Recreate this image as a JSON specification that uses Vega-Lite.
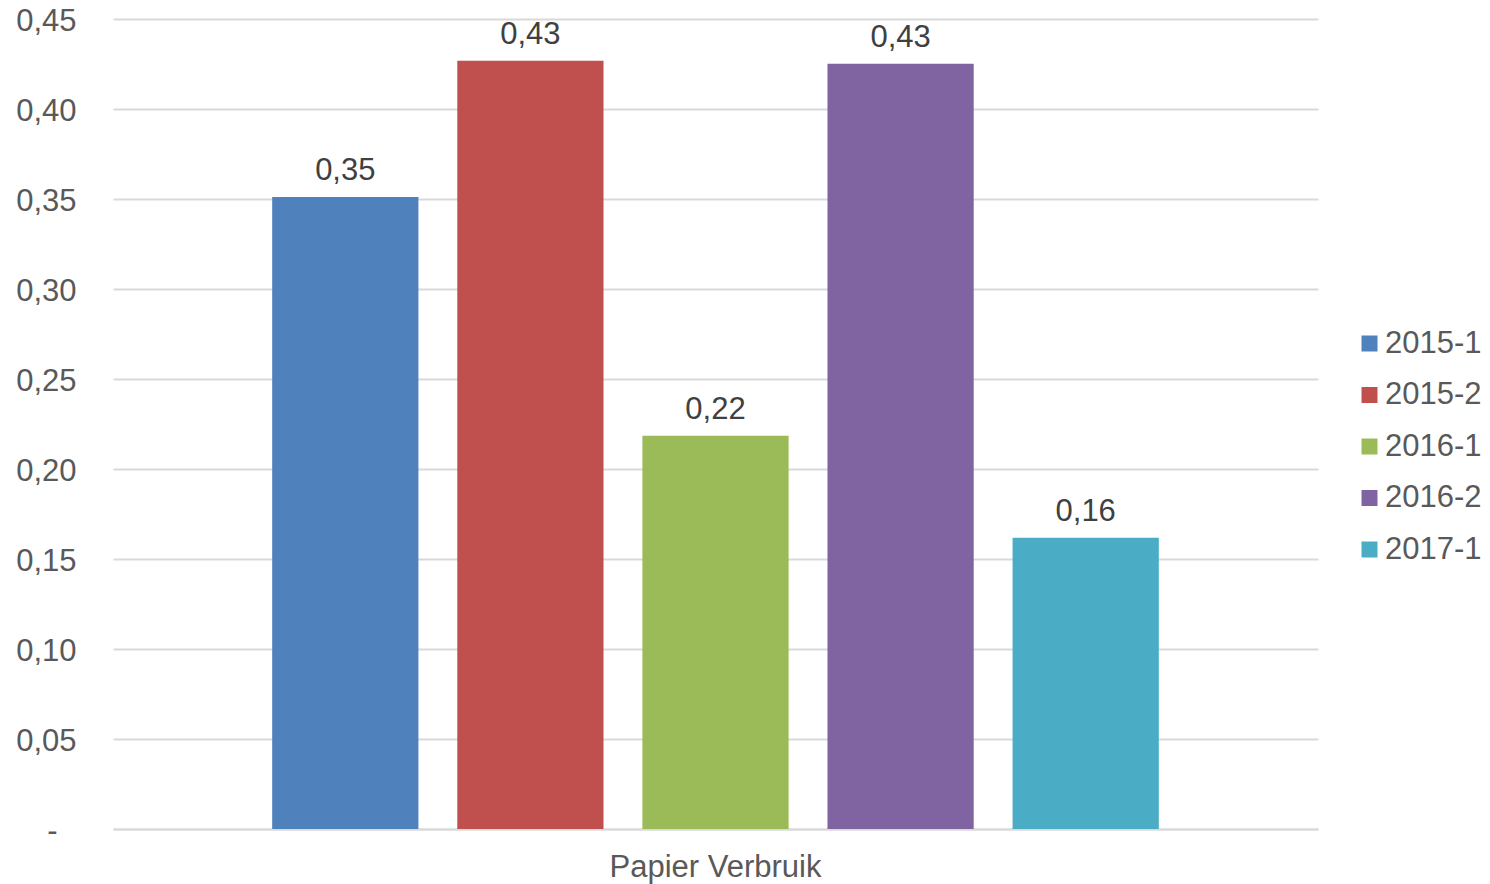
{
  "$schema": "https://vega.github.io/schema/vega-lite/v6.json",
  "autosize": {"type": "none"},
  "padding": {"left": 113, "top": 19, "right": 172, "bottom": 55},
  "width": 1205,
  "height": 810,
  "background": "white",
  "config": {
    "locale": {"number": {"decimal": ",", "thousands": ".", "grouping": [3], "currency": ["€", ""]}},
    "view": {"stroke": null},
    "font": "Liberation Sans"
  },
  "data": {
    "values": [
      {"categorie": "Papier Verbruik", "periode": "2015-1", "waarde": 0.3511},
      {"categorie": "Papier Verbruik", "periode": "2015-2", "waarde": 0.4268},
      {"categorie": "Papier Verbruik", "periode": "2016-1", "waarde": 0.2185},
      {"categorie": "Papier Verbruik", "periode": "2016-2", "waarde": 0.4252},
      {"categorie": "Papier Verbruik", "periode": "2017-1", "waarde": 0.1618}
    ]
  },
  "encoding": {
    "x": {
      "field": "categorie", "type": "nominal", "title": null,
      "scale": {"paddingOuter": 0.151, "paddingInner": 0},
      "axis": {
        "labelAngle": 0, "labelFontSize": 31, "labelColor": "#595959", "labelLimit": 0,
        "labelPadding": 23, "ticks": false, "domainColor": "#d9d9d9", "domainWidth": 2
      }
    },
    "xOffset": {
      "field": "periode", "type": "nominal",
      "scale": {"paddingInner": 0.21, "paddingOuter": 0.105}
    },
    "y": {
      "field": "waarde", "type": "quantitative", "title": null,
      "scale": {"domain": [0, 0.45], "nice": false},
      "axis": {
        "values": [0, 0.05, 0.1, 0.15, 0.2, 0.25, 0.3, 0.35, 0.4, 0.45],
        "format": ".2f",
        "labelExpr": "datum.value == 0 ? '-' : datum.label",
        "labelFontSize": 31, "labelColor": "#595959",
        "labelPadding": {"condition": {"test": "datum.value == 0", "value": 56}, "value": 37},
        "labelOffset": 2,
        "ticks": false, "domain": false,
        "gridColor": "#d9d9d9", "gridWidth": 2
      }
    }
  },
  "layer": [
    {
      "mark": {"type": "bar"},
      "encoding": {
        "color": {
          "field": "periode", "type": "nominal", "title": null,
          "scale": {
            "domain": ["2015-1", "2015-2", "2016-1", "2016-2", "2017-1"],
            "range": ["#4f81bd", "#c0504d", "#9bbb59", "#8064a2", "#4bacc6"]
          },
          "legend": {
            "orient": "none", "legendX": 1241, "legendY": 309,
            "symbolType": "square", "symbolSize": 256, "symbolStrokeWidth": 0,
            "labelFontSize": 31, "labelColor": "#595959", "labelOffset": 0, "labelLimit": 300,
            "rowPadding": 19.5
          }
        }
      }
    },
    {
      "mark": {"type": "text", "baseline": "alphabetic", "dy": -17, "fontSize": 31, "color": "#404040"},
      "encoding": {
        "text": {"field": "waarde", "type": "quantitative", "format": ".2f"}
      }
    }
  ]
}
